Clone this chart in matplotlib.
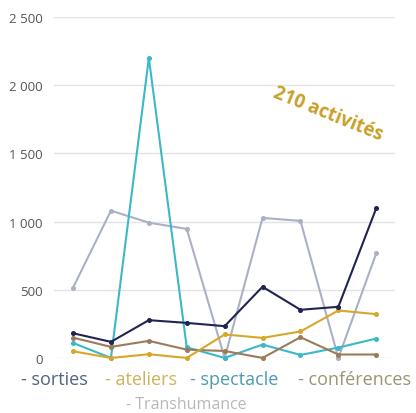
import matplotlib.pyplot as plt
from matplotlib.ticker import FuncFormatter

plt.rcParams['font.family'] = ['Open Sans', 'DejaVu Sans']

# données (9 périodes)
periodes = list(range(9))
sorties = [181, 118, 277, 257, 233, 522, 353, 375, 1098]
ateliers = [49, 0, 27, 0, 172, 147, 194, 348, 321]
spectacle = [110, 0, 2200, 78, 0, 98, 22, 76, 142]
conferences = [149, 81, 125, 61, 51, 0, 152, 25, 25]
transhumance = [515, 1080, 992, 946, 0, 1027, 1005, 0, 767]

series = [
    ("- sorties", sorties, "#212453", "#4f6383"),
    ("- ateliers", ateliers, "#d6a72a", "#cdb35a"),
    ("- spectacle", spectacle, "#3cb8c9", "#4b9bb0"),
    ("- conférences", conferences, "#9b7b58", "#a09274"),
    ("- Transhumance", transhumance, "#aab0c6", "#b8b8bc"),
]

fig = plt.figure(figsize=(4.16, 4.14), dpi=100)
ax = fig.add_axes([0.13, 0.133, 0.82, 0.8235])

# ordre de dessin : transhumance derrière
for nom, vals, couleur, _ in [series[4], series[2], series[3], series[1], series[0]]:
    ax.plot(periodes, vals, color=couleur, lw=1.5, marker='o', ms=2.6,
            clip_on=False, zorder=3)

ax.set_xlim(-0.5, 8.5)
ax.set_ylim(0, 2500)
ax.set_yticks([0, 500, 1000, 1500, 2000, 2500])
ax.yaxis.set_major_formatter(FuncFormatter(lambda v, p: f"{int(v):,}".replace(",", " ")))
ax.set_xticks([])
ax.grid(axis='y', color='#e3e3e6', lw=1)
ax.set_axisbelow(True)
for s in ax.spines.values():
    s.set_visible(False)
ax.tick_params(axis='y', length=0, labelsize=9.5, labelcolor='#555555', pad=8)

# annotation
fig.text(0.788, 0.724, "210 activités", color='#c9a02a', fontsize=13.5,
         fontweight='bold', rotation=-22, ha='center', va='center')

# légende en texte coloré
pos = [(0.13, 0.082), (0.34, 0.082), (0.563, 0.082), (0.853, 0.082), (0.447, 0.022)]
tailles = [13, 13, 13, 13, 11.5]
for (nom, _, _, tcol), (x, y), t in zip(series, pos, tailles):
    fig.text(x, y, nom, color=tcol, fontsize=t, ha='center', va='center')

fig.savefig("out.png", dpi=100)
